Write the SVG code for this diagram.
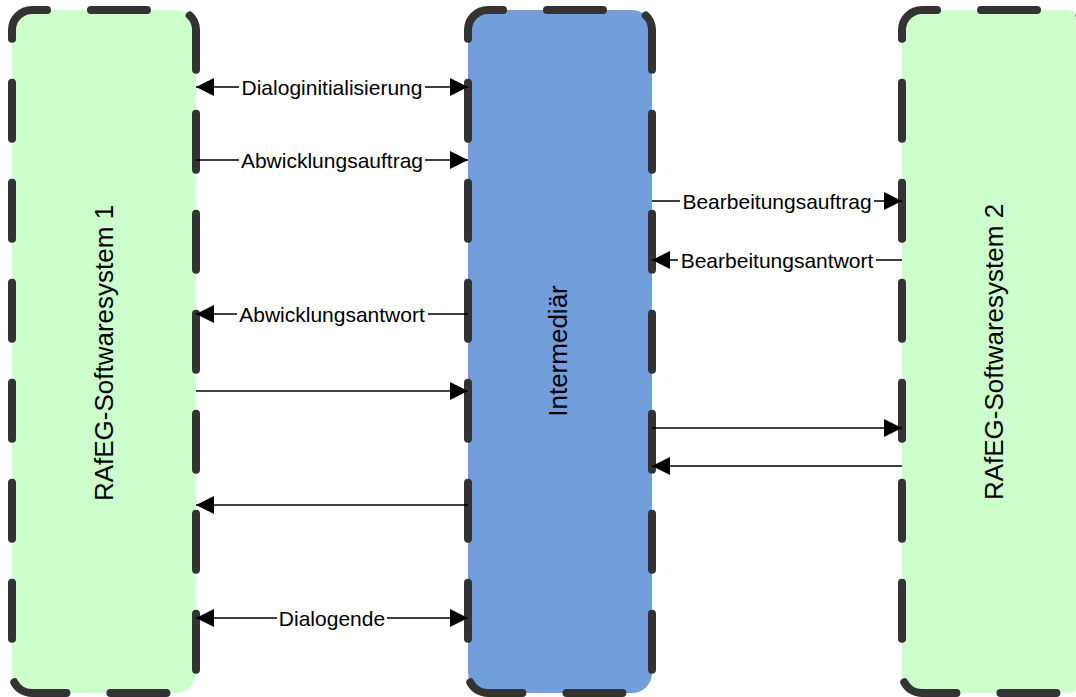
<svg xmlns="http://www.w3.org/2000/svg" width="1076" height="697" viewBox="0 0 1076 697">
  <style>
    .box { stroke: #333333; stroke-width: 8; stroke-dasharray: 56 44; stroke-dashoffset: 41; stroke-linecap: round; }
    .sys { fill: #ccffcc; }
    .mid { fill: #729fdc; }
    .title { font-family: "Liberation Sans", Arial, sans-serif; font-size: 26px; fill: #000000; text-anchor: middle; }
    .lbl { font-family: "Liberation Sans", Arial, sans-serif; font-size: 21px; fill: #000000; text-anchor: middle; }
    .conn { fill: none; stroke: #000000; stroke-width: 1.3; }
    .fwd { marker-end: url(#head); }
    .both { marker-start: url(#head); marker-end: url(#head); }
  </style>
  <defs>
    <marker id="head" markerUnits="userSpaceOnUse" markerWidth="20" markerHeight="20" viewBox="0 0 20 20" refX="19" refY="10" orient="auto-start-reverse">
      <path d="M1 1 L19 10 L1 19 Z" fill="#000000"/>
    </marker>
  </defs>
  <rect width="1076" height="697" fill="#ffffff"/>

  <g id="system1">
    <rect class="box sys" x="12" y="10" width="184" height="683" rx="20"/>
    <text class="title" transform="translate(113 353) rotate(-90)">RAfEG-Softwaresystem 1</text>
  </g>

  <g id="intermediaer">
    <rect class="box mid" x="468" y="10" width="184" height="683" rx="20"/>
    <text class="title" transform="translate(567 351) rotate(-90)">Intermediär</text>
  </g>

  <g id="system2">
    <rect class="box sys" x="902" y="10" width="184" height="683" rx="20"/>
    <text class="title" transform="translate(1003 352) rotate(-90)">RAfEG-Softwaresystem 2</text>
  </g>

  <g id="connectors">
    <!-- dialog start: both directions -->
    <path class="conn both" d="M196 87 H239 M425 87 H468"/>
    <text class="lbl" x="332" y="94.5">Dialoginitialisierung</text>

    <path class="conn fwd" d="M196 160 H239 M425 160 H468"/>
    <text class="lbl" x="332" y="167.5">Abwicklungsauftrag</text>

    <path class="conn fwd" d="M652 201 H680 M874 201 H902"/>
    <text class="lbl" x="777" y="208.5">Bearbeitungsauftrag</text>

    <path class="conn fwd" d="M902 260 H876 M678 260 H652"/>
    <text class="lbl" x="777" y="267.5">Bearbeitungsantwort</text>

    <path class="conn fwd" d="M468 314 H428 M237 314 H196"/>
    <text class="lbl" x="332" y="321.5">Abwicklungsantwort</text>

    <!-- unlabeled exchange -->
    <path class="conn fwd" d="M196 391 H468"/>
    <path class="conn fwd" d="M652 428 H902"/>
    <path class="conn fwd" d="M902 466 H652"/>
    <path class="conn fwd" d="M468 505 H196"/>

    <!-- dialog end: both directions -->
    <path class="conn both" d="M196 618 H277 M387 618 H468"/>
    <text class="lbl" x="332" y="625.5">Dialogende</text>
  </g>
</svg>
